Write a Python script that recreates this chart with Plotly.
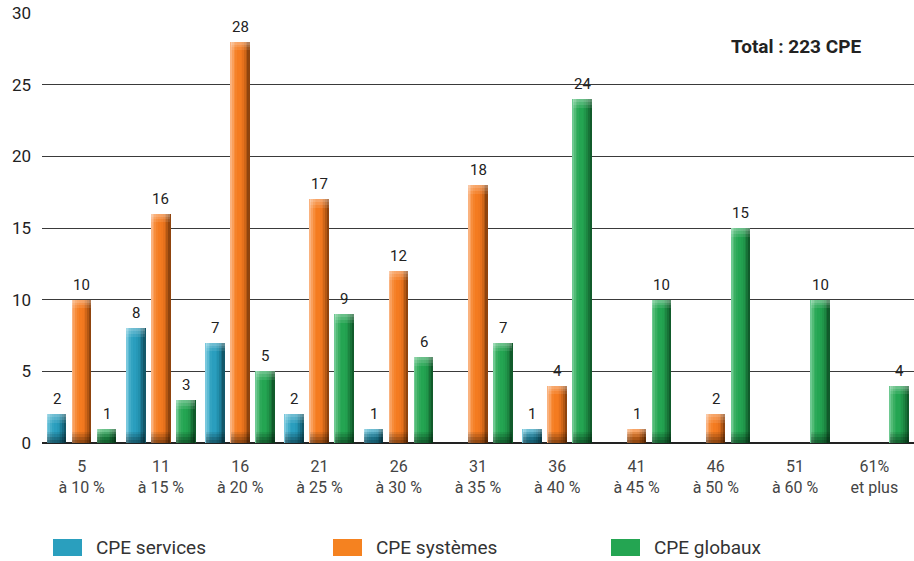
import plotly.graph_objects as go

# Répartition des CPE par tranche d'économie
categories = ["5<br>à 10 %", "11<br>à 15 %", "16<br>à 20 %", "21<br>à 25 %", "26<br>à 30 %",
              "31<br>à 35 %", "36<br>à 40 %", "41<br>à 45 %", "46<br>à 50 %", "51<br>à 60 %",
              "61%<br>et plus"]
services = [2, 8, 7, 2, 1, None, 1, None, None, None, None]
systemes = [10, 16, 28, 17, 12, 18, 4, 1, 2, None, None]
globaux = [1, 3, 5, 9, 6, 7, 24, 10, 15, 10, 4]
series_names = ["CPE services", "CPE systèmes", "CPE globaux"]
total_text = "Total : 223 CPE"

# Shading ramps, light (left edge) to dark (right edge)
ramps = [
    ["#79c8dd", "#5cbad3", "#42acc8", "#32a3c1", "#2a9ebe", "#2a9ebe", "#2698b7", "#2290ad",
     "#1d809b", "#186c84", "#135869"],
    ["#fab27e", "#f99f5c", "#f78d3c", "#f5822a", "#f47b20", "#f47b20", "#f0781f", "#e6711c",
     "#d06618", "#b35713", "#8f440e"],
    ["#6ec991", "#52bb76", "#3aaf62", "#2ca959", "#24a552", "#24a552", "#22a04f", "#20964a",
     "#1c8641", "#177237", "#115b2b"],
]
swatch = ["#2a9fbe", "#f58220", "#24a552"]

offsets = [-0.315, 0.0, 0.315]   # group position of each series (x units)
bar_w = 0.24

fig = go.Figure()
xs = list(range(len(categories)))
all_series = [services, systemes, globaux]

for s, vals in enumerate(all_series):
    ramp = ramps[s]
    n = len(ramp)
    sw = bar_w / n
    left = offsets[s] - bar_w / 2
    # vertical strips giving a rounded look
    for k, col in enumerate(ramp):
        fig.add_trace(go.Bar(
            x=xs, y=vals, width=sw * 1.06, offset=left + k * sw,
            marker=dict(color=col, line=dict(width=0)),
            showlegend=False, hoverinfo="skip"))
    # soft light cap on top
    for h, a in [(0.6, 0.10), (0.4, 0.12), (0.2, 0.14)]:
        cap_base = [v - h if v else None for v in vals]
        cap_h = [h if v else None for v in vals]
        fig.add_trace(go.Bar(
            x=xs, y=cap_h, base=cap_base, width=bar_w, offset=left,
            marker=dict(color=f"rgba(255,255,255,{a})", line=dict(width=0)),
            showlegend=False, hoverinfo="skip"))
    # darker foot
    for h, a in [(0.8, 0.08), (0.6, 0.10), (0.4, 0.14), (0.2, 0.14)]:
        foot = [h if v else None for v in vals]
        fig.add_trace(go.Bar(
            x=xs, y=foot, base=0, width=bar_w, offset=left,
            marker=dict(color=f"rgba(0,0,0,{a})", line=dict(width=0)),
            showlegend=False, hoverinfo="skip"))

# value labels above each bar
for s, vals in enumerate(all_series):
    for i, v in enumerate(vals):
        if v:
            fig.add_annotation(x=i + offsets[s], y=v, text=str(v), showarrow=False,
                               xanchor="center", yanchor="bottom", yshift=4,
                               font=dict(family="Roboto", size=15, color="#222222"))

fig.add_annotation(x=(796 - 42) / 872, y=0.921, xref="paper", yref="paper",
                   text=f"<b>{total_text}</b>", showarrow=False,
                   xanchor="center", yanchor="middle",
                   font=dict(family="Roboto", size=19, color="#222222"))

# legend
leg_x = [53, 333, 611]
for s, name in enumerate(series_names):
    x0 = (leg_x[s] - 42) / 872
    x1 = (leg_x[s] + 29 - 42) / 872
    fig.add_shape(type="rect", xref="paper", yref="paper", x0=x0, x1=x1,
                  y0=(443 - 556) / 430, y1=(443 - 539) / 430,
                  fillcolor=swatch[s], line=dict(width=0))
    fig.add_annotation(x=(leg_x[s] + 41 - 42) / 872, y=(443 - 547.5) / 430,
                       xref="paper", yref="paper", text=name, showarrow=False,
                       xanchor="left", yanchor="middle",
                       font=dict(family="Roboto", size=19, color="#333333"))

fig.update_layout(
    width=914, height=561,
    margin=dict(l=42, r=0, t=13, b=118),
    barmode="overlay",
    bargap=0,
    plot_bgcolor="white", paper_bgcolor="white",
    showlegend=False,
    xaxis=dict(range=[-0.5, len(categories) - 0.5], tickmode="array", tickvals=xs,
               ticktext=categories, showgrid=False, showline=False, zeroline=False,
               ticks="", ticklabelstandoff=12,
               tickfont=dict(family="Roboto", size=16, color="#444444")),
    yaxis=dict(range=[0, 30], tickvals=[0, 5, 10, 15, 20, 25, 30], showgrid=True,
               gridcolor="#3a3a3a", gridwidth=1, zeroline=True, zerolinecolor="#222222",
               zerolinewidth=1.5, showline=False, ticks="", ticklabelstandoff=10,
               tickfont=dict(family="Roboto", size=17, color="#222222")),
)

fig.write_html("out.html")
